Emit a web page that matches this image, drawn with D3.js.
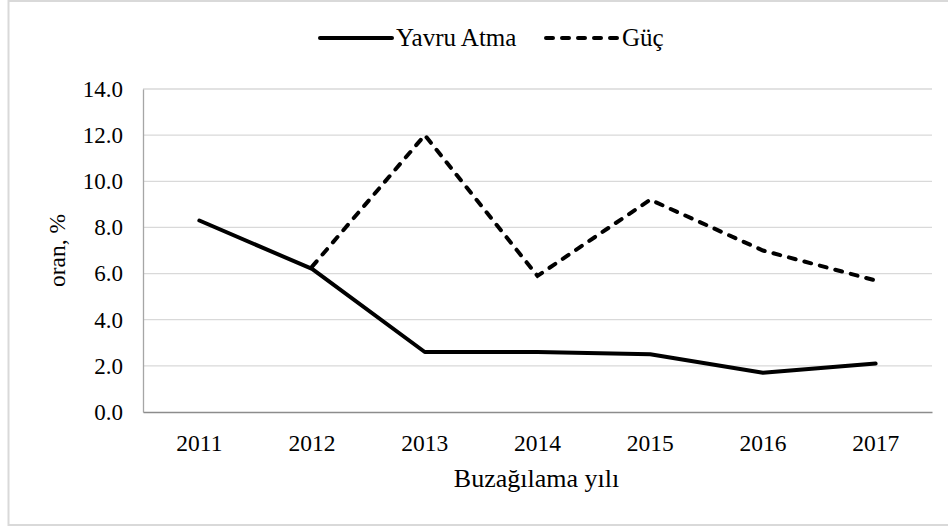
<!DOCTYPE html>
<html>
<head>
<meta charset="utf-8">
<script src="https://cdn.jsdelivr.net/npm/d3@7"></script>
<style>
  body { margin: 0; background: #fff; }
  text { font-family: "Liberation Serif", "Times New Roman", serif; fill: #000; }
</style>
</head>
<body>
<div id="chart"></div>
<script>
const years = ["2011", "2012", "2013", "2014", "2015", "2016", "2017"];
const yavruAtma = [8.3, 6.2, 2.6, 2.6, 2.5, 1.7, 2.1];
const guc = [null, 6.3, 12.0, 5.9, 9.2, 7.0, 5.7];
const yTicks = [0, 2, 4, 6, 8, 10, 12, 14];
const seriesNames = ["Yavru Atma", "Güç"];

const W = 948, H = 527;
const margin = { top: 89, right: 16, bottom: 115, left: 143 };
const width = W - margin.left - margin.right;
const height = H - margin.top - margin.bottom;

const svg = d3.select("#chart")
    .append("svg")
    .attr("width", W)
    .attr("height", H);

// outer chart border
svg.append("rect")
    .attr("x", 8.5).attr("y", 1)
    .attr("width", W + 10).attr("height", 524)
    .attr("fill", "none")
    .attr("stroke", "#d9d9d9")
    .attr("stroke-width", 2);

const g = svg.append("g")
    .attr("transform", "translate(" + margin.left + "," + margin.top + ")");

const x = d3.scaleBand()
    .domain(years)
    .range([0, width]);

const y = d3.scaleLinear()
    .domain([0, 14])
    .range([height, 0]);

// gridlines
g.selectAll(".grid")
    .data(yTicks.slice(1))
    .enter().append("line")
    .attr("class", "grid")
    .attr("x1", 0).attr("x2", width)
    .attr("y1", d => y(d)).attr("y2", d => y(d))
    .attr("stroke", "#d9d9d9")
    .attr("stroke-width", 1.3);

// y axis
const yAxis = g.append("g")
    .call(d3.axisLeft(y).tickValues(yTicks).tickFormat(d3.format(".1f")).tickSize(0).tickPadding(20));
yAxis.select(".domain").attr("stroke", "#a6a6a6").attr("stroke-width", 1.3);
yAxis.selectAll("text").attr("font-size", "23px").attr("font-family", "Liberation Serif");

// x axis
const xAxis = g.append("g")
    .attr("transform", "translate(0," + height + ")")
    .call(d3.axisBottom(x).tickSize(0).tickPadding(22));
xAxis.select(".domain").attr("stroke", "#8c8c8c").attr("stroke-width", 1.5);
xAxis.selectAll("text").attr("font-size", "23.5px").attr("font-family", "Liberation Serif");

// axis titles
g.append("text")
    .attr("x", width / 2 - 1)
    .attr("y", height + 75)
    .attr("text-anchor", "middle")
    .attr("font-size", "26px")
    .text("Buzağılama yılı");

g.append("text")
    .attr("transform", "translate(" + (-78) + "," + (height / 2) + ") rotate(-90)")
    .attr("text-anchor", "middle")
    .attr("font-size", "23.5px")
    .text("oran, %");

// lines
const line = d3.line()
    .defined(d => d.v != null)
    .x(d => x(d.year) + x.bandwidth() / 2)
    .y(d => y(d.v));

g.append("path")
    .datum(years.map((yr, i) => ({ year: yr, v: guc[i] })))
    .attr("d", line)
    .attr("fill", "none")
    .attr("stroke", "#000")
    .attr("stroke-width", 4)
    .attr("stroke-linecap", "round")
    .attr("stroke-dasharray", "7,9");

g.append("path")
    .datum(years.map((yr, i) => ({ year: yr, v: yavruAtma[i] })))
    .attr("d", line)
    .attr("fill", "none")
    .attr("stroke", "#000")
    .attr("stroke-width", 4)
    .attr("stroke-linejoin", "round")
    .attr("stroke-linecap", "round");

// legend
const legend = svg.append("g").attr("class", "legend");
const legendX = [320, 546];
const legendItems = legend.selectAll(".legend-item")
    .data(seriesNames)
    .enter().append("g")
    .attr("class", "legend-item")
    .attr("transform", (d, i) => "translate(" + legendX[i] + ",38)");

legendItems.append("line")
    .attr("x1", 0).attr("x2", 72)
    .attr("y1", 0).attr("y2", 0)
    .attr("stroke", "#000")
    .attr("stroke-width", 4)
    .attr("stroke-linecap", "round")
    .attr("stroke-dasharray", (d, i) => i === 1 ? "7,9" : null);

legendItems.append("text")
    .attr("x", 76)
    .attr("y", 0)
    .attr("dy", "0.33em")
    .attr("font-size", "25px")
    .text(d => d);
</script>
</body>
</html>
